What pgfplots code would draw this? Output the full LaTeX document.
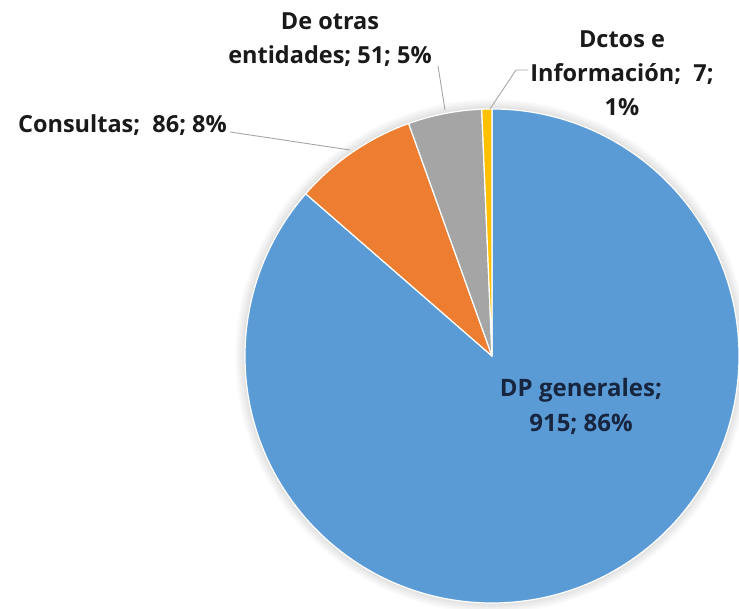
\documentclass[border=0pt]{standalone}
\usepackage{pgfplots}
\pgfplotsset{compat=1.18}
\usepackage{fontspec}
\setmainfont{Open Sans}

\definecolor{pieblue}{HTML}{5B9BD5}
\definecolor{pieorange}{HTML}{ED7D31}
\definecolor{piegray}{HTML}{A5A5A5}
\definecolor{pieyellow}{HTML}{FFC000}
\definecolor{leader}{HTML}{A6A6A6}
\definecolor{labeltxt}{HTML}{1A1A1A}
\definecolor{innertxt}{HTML}{17253F}

% pie centre and radius, in axis units (1 unit = 1pt)
\def\cx{492}
\def\cy{253}
\def\rad{247}

\begin{document}
\begin{tikzpicture}
\useasboundingbox (0,0) rectangle (739pt,609pt);
\begin{axis}[
    at={(0pt,0pt)}, anchor=south west,
    scale only axis, width=739pt, height=609pt,
    xmin=0, xmax=739, ymin=0, ymax=609,
    hide axis, clip=false,
]
% soft shadow round the pie
\foreach \k in {1,...,10}{
    \edef\temp{\noexpand\fill[black, opacity=0.012]
        (axis cs:\cx,\cy) circle[radius=\the\numexpr\rad+\k\relax pt];}
    \temp
}
% total of the slices
\xdef\total{0}
\foreach \v in {915,86,51,7}{
    \pgfmathsetmacro\t{\total+\v}
    \xdef\total{\t}
}
% slices, clockwise from 12 o'clock
\xdef\start{90}
\foreach \v/\c in {915/pieblue, 86/pieorange, 51/piegray, 7/pieyellow}{
    \pgfmathsetmacro\en{\start-360*(\v/\total)}
    \edef\temp{\noexpand\fill[\c, draw=white, line width=1.2pt, line join=round]
        (axis cs:\cx,\cy) -- ++(\start:\rad pt)
        arc[start angle=\start, end angle=\en, radius=\rad pt] -- cycle;}
    \temp
    \xdef\start{\en}
}

% leader lines
\draw[leader, line width=0.9pt] (axis cs:230,477) -- (axis cs:350,459);
\draw[leader, line width=0.9pt] (axis cs:438,543) -- (axis cs:445,499);
\draw[leader, line width=0.9pt] (axis cs:528,539) -- (axis cs:516,539) -- (axis cs:490,500);

% labels
\tikzset{lbl/.style={font=\fontsize{23.5}{34}\selectfont\bfseries, text=labeltxt, align=center, inner sep=0pt}}
\node[lbl, anchor=east] at (axis cs:227,484) {Consultas;\ \ 86; 8\%};
\node[lbl] at (axis cs:330,569) {De otras\\entidades; 51; 5\%};
\node[lbl] at (axis cs:622,536) {Dctos e\\Información;\ \ 7;\\1\%};
\node[lbl, text=innertxt, font=\fontsize{24}{35}\selectfont\bfseries] at (axis cs:581,203) {DP generales;\\915; 86\%};
\end{axis}
\end{tikzpicture}
\end{document}
